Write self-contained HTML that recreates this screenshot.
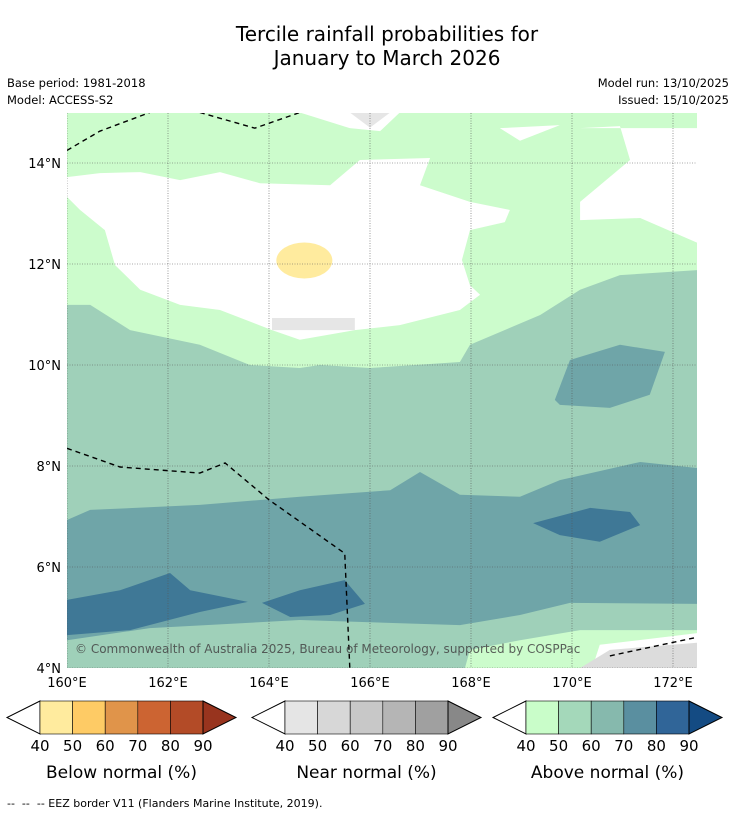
<!DOCTYPE html>
<html><head><meta charset="utf-8"><style>
body{margin:0;background:#fff;font-family:"DejaVu Sans","Liberation Sans",sans-serif;}
#wrap{position:relative;width:736px;height:816px;overflow:hidden;}
.t{position:absolute;color:#000;white-space:nowrap;}
</style></head><body>
<div id="wrap">
<div class="t" style="left:0;width:774px;text-align:center;top:22px;font-size:20px;line-height:24px">Tercile rainfall probabilities for<br>January to March 2026</div>
<div class="t" style="left:7px;top:76px;font-size:11.5px">Base period: 1981-2018</div>
<div class="t" style="left:7px;top:93px;font-size:11.5px">Model: ACCESS-S2</div>
<div class="t" style="right:7px;top:76px;font-size:11.5px">Model run: 13/10/2025</div>
<div class="t" style="right:7px;top:93px;font-size:11.5px">Issued: 15/10/2025</div>
<svg id="map" width="736" height="816" style="position:absolute;left:0;top:0"></svg>
<div class="t" style="left:7px;top:797px;font-size:11px">-- &nbsp;-- &nbsp;-- EEZ border V11 (Flanders Marine Institute, 2019).</div>
</div>
<script>
const lonTicks=[160,162,164,166,168,170,172];
const latTicks=[4,6,8,10,12,14];
const baseColor="#6fa5a8";
const regions=[
 {name:"mid-band",color:"#9fd0b9",pts:[[160,6.93],[160.46,7.13],[162.63,7.23],[164.61,7.39],[166.4,7.52],[166.99,7.88],[167.78,7.43],[168.97,7.39],[169.76,7.72],[171.35,8.08],[172.48,7.96],[172.48,15],[160,15]]},
 {name:"bottom-mid",color:"#9fd0b9",pts:[[160,4.55],[161.64,4.79],[164.61,4.95],[167.78,4.85],[168.97,5.05],[169.96,5.29],[172.48,5.27],[172.48,4],[160,4]]},
 {name:"bottom-green",color:"#ccfccc",pts:[[167.88,4],[167.98,4.36],[168.97,4.55],[170.16,4.75],[172.48,4.75],[172.48,4]]},
 {name:"bottom-white",color:"#ffffff",pts:[[170.55,4.46],[172.48,4.69],[172.48,4],[170.4,4]]},
 {name:"bottom-grey",color:"#dcdcdc",pts:[[170.16,4],[170.75,4.36],[172.48,4.5],[172.48,4]]},
 {name:"upper-green",color:"#ccfccc",pts:[[160,11.19],[160.46,11.19],[161.25,10.69],[162.63,10.4],[163.62,10.0],[164.61,9.94],[165.01,10.0],[166.0,9.94],[167.78,10.06],[167.98,10.4],[169.37,10.99],[170.16,11.49],[170.95,11.78],[172.48,11.88],[172.48,15],[160,15]]},
 {name:"white-main",color:"#ffffff",pts:[[160,13.72],[160.65,13.8],[161.45,13.82],[162.24,13.66],[163.03,13.82],[163.82,13.6],[165.21,13.56],[165.8,14.06],[167.19,14.1],[166.99,13.56],[167.98,13.23],[168.77,13.07],[168.67,12.83],[167.98,12.67],[167.82,12.08],[167.98,11.58],[168.18,11.39],[167.78,11.09],[166.59,10.79],[165.7,10.69],[164.61,10.5],[164.06,10.69],[163.03,11.09],[162.24,11.19],[161.45,11.49],[160.95,11.98],[160.75,12.67],[160.26,13.07],[160,13.33]]},
 {name:"white-right",color:"#ffffff",pts:[[170.16,14.69],[170.95,14.73],[171.15,14.06],[170.16,13.23],[170.16,12.87],[171.35,12.91],[172.48,12.42],[172.48,14.69]]},
 {name:"white-top",color:"#ffffff",pts:[[164.61,15],[165.6,14.69],[166.2,14.63],[166.59,15]]},
 {name:"white-top-right",color:"#ffffff",pts:[[168.57,14.69],[169.76,14.75],[168.97,14.44]]},
 {name:"grey-top",color:"#e6e6e6",pts:[[165.6,15],[166.4,15],[166.0,14.7]]},
 {name:"grey-mid",color:"#e6e6e6",pts:[[164.06,10.93],[165.7,10.93],[165.7,10.69],[164.06,10.69]]},
 {name:"dark-patch-right",color:"#6fa5a8",pts:[[169.66,9.31],[169.96,10.1],[170.95,10.4],[171.84,10.26],[171.54,9.41],[170.75,9.15],[169.76,9.21]]},
 {name:"darkest-right",color:"#3f7896",pts:[[169.23,6.87],[170.36,7.17],[171.15,7.09],[171.35,6.83],[170.55,6.5],[169.76,6.63]]},
 {name:"darkest-left",color:"#3f7896",pts:[[160,5.35],[161.05,5.54],[162.04,5.88],[162.44,5.54],[163.58,5.31],[162.63,5.11],[161.25,4.75],[160,4.65]]},
 {name:"darkest-mid",color:"#3f7896",pts:[[163.86,5.29],[164.61,5.54],[165.5,5.74],[165.9,5.27],[165.21,5.05],[164.42,5.01]]}
];
const eezLines=[
 [[160,14.25],[160.65,14.63],[161.64,15]],
 [[162.63,15],[163.72,14.69],[164.61,15]],
 [[160,8.35],[161.05,7.98],[162.63,7.86],[163.13,8.06],[164.0,7.33],[165.5,6.27],[165.6,4]],
 [[170.75,4.24],[172.48,4.61]]
];
const X0=67,X1=697,Y0=113,Y1=668;
const xs=lon=>X0+(lon-160)*50.5;
const ys=lat=>Y1-(lat-4)*50.5;
const NS="http://www.w3.org/2000/svg";
const svg=document.getElementById('map');
function mk(t,a,p){const e=document.createElementNS(NS,t);for(const k in a)e.setAttribute(k,a[k]);(p||svg).appendChild(e);return e;}
const defs=mk('defs',{});const cp=mk('clipPath',{id:'clip'},defs);mk('rect',{x:X0,y:Y0,width:X1-X0,height:Y1-Y0},cp);
const g=mk('g',{'clip-path':'url(#clip)'});
let r=mk('rect',{x:X0,y:Y0,width:X1-X0,height:Y1-Y0,fill:baseColor},g);


regions.forEach(rg=>{
 const p=mk('polygon',{points:rg.pts.map(q=>xs(q[0])+','+ys(q[1])).join(' '),fill:rg.color},g);
 
 
});
const yel=mk('ellipse',{cx:xs(164.7),cy:ys(12.07),rx:28,ry:18,fill:"#ffeb9e"},g);


lonTicks.forEach(l=>{const e=mk('line',{x1:xs(l),x2:xs(l),y1:Y0,y2:Y1,stroke:'#555','stroke-width':0.6,'stroke-dasharray':'1,1.5'},g);
 
 const t=mk('text',{x:xs(l),y:687,'text-anchor':'middle','font-size':13,fill:'#000'});t.textContent=l+'°E';
 });
latTicks.forEach(l=>{const e=mk('line',{x1:X0,x2:X1,y1:ys(l),y2:ys(l),stroke:'#555','stroke-width':0.6,'stroke-dasharray':'1,1.5'},g);
 
 const t=mk('text',{x:61,y:ys(l)+5,'text-anchor':'end','font-size':13,fill:'#000'});t.textContent=l+'°N';
 });
eezLines.forEach(ln=>{const e=mk('polyline',{points:ln.map(q=>xs(q[0])+','+ys(q[1])).join(' '),fill:'none',stroke:'#000','stroke-width':1.4,'stroke-dasharray':'5,4'},g);
 });
const cr=mk('text',{x:75,y:653,'font-size':12,fill:'#444','fill-opacity':0.85});
cr.textContent='© Commonwealth of Australia 2025, Bureau of Meteorology, supported by COSPPac';

const barLabels=[40,50,60,70,80,90];
const bars=[
 {name:"below-normal",x:40,title:"Below normal (%)",cols:["#ffeb9e","#fecb65","#e0944a","#cc6432","#b34b27"],end:"#98341e"},
 {name:"near-normal",x:285,title:"Near normal (%)",cols:["#e5e5e5","#d7d7d7","#c8c8c8","#b5b5b5","#a0a0a0"],end:"#888888"},
 {name:"above-normal",x:526,title:"Above normal (%)",cols:["#c9fdc9","#a4d8ba","#86b9ad","#5a8fa0","#306598"],end:"#144b83"}
];
bars.forEach(b=>{
 const W=163,y0=701,y1=734,cw=W/5,ym=(y0+y1)/2;
 const gb=mk('g',{});
 mk('polygon',{points:`${b.x},${y0} ${b.x-33},${ym} ${b.x},${y1}`,fill:'#fff',stroke:'#000','stroke-width':1},gb);
 b.cols.forEach((c,i)=>mk('rect',{x:b.x+i*cw,y:y0,width:cw,height:y1-y0,fill:c,stroke:'#000','stroke-width':0.6},gb));
 mk('polygon',{points:`${b.x+W},${y0} ${b.x+W+33},${ym} ${b.x+W},${y1}`,fill:b.end,stroke:'#000','stroke-width':1},gb);
 barLabels.forEach((v,i)=>{const t=mk('text',{x:b.x+i*cw,y:751,'text-anchor':'middle','font-size':15,fill:'#000'},gb);t.textContent=v;});
 const tt=mk('text',{x:b.x+W/2,y:778,'text-anchor':'middle','font-size':17,fill:'#000'},gb);tt.textContent=b.title;
});
</script>
</body></html>
